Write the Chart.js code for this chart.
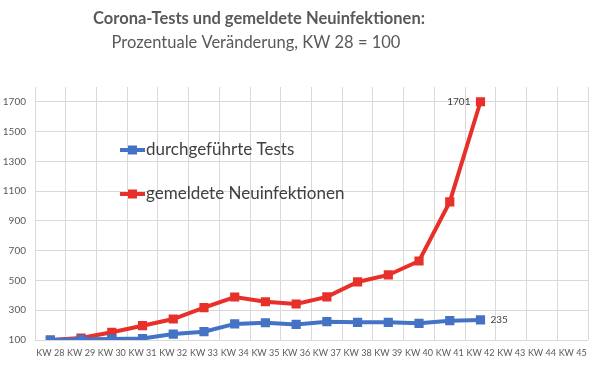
<!DOCTYPE html>
<html><head><meta charset="utf-8">
<script src="https://cdn.jsdelivr.net/npm/chart.js@4"></script>
<style>html,body{margin:0;padding:0;background:#fff}#w{width:600px;height:380px}</style>
</head><body><div id="w"><canvas id="c" width="600" height="380"></canvas></div>
<script>
const categories = ["KW 28","KW 29","KW 30","KW 31","KW 32","KW 33","KW 34","KW 35","KW 36","KW 37","KW 38","KW 39","KW 40","KW 41","KW 42","KW 43","KW 44","KW 45"];
const testsValues = [100,105,107,110,140,156,208,216,205,223,219,219,212,230,235,null,null,null];
const infectionsValues = [100,113,152,196,241,317,389,357,342,390,490,537,631,1028,1701,null,null,null];
const yTickValues = [100,300,500,700,900,1100,1300,1500,1700];
const seriesNames = ["durchgeführte Tests","gemeldete Neuinfektionen"];
const titleText = "Corona-Tests und gemeldete Neuinfektionen:";
const subtitleText = "Prozentuale Veränderung, KW 28 = 100";

const BLUE = "#4472C4", RED = "#E8302A", FONT = "Lato";

const overlay = {
  id: "overlay",
  afterDraw(chart) {
    const ctx = chart.ctx;
    ctx.save();
    ctx.fillStyle = "#595959"; ctx.textAlign = "center"; ctx.textBaseline = "alphabetic";
    ctx.font = "bold 16.5px " + FONT; ctx.fillText(titleText, 259, 24);
    ctx.font = "16.5px " + FONT; ctx.fillText(subtitleText, 256, 48);
    ctx.restore();
  },
  afterDatasetsDraw(chart) {
    const ctx = chart.ctx;
    const items = [[seriesNames[0], BLUE, 150], [seriesNames[1], RED, 194]];
    items.forEach(([t, col, y]) => {
      ctx.save();
      ctx.strokeStyle = col; ctx.lineWidth = 4;
      ctx.beginPath(); ctx.moveTo(120, y); ctx.lineTo(145, y); ctx.stroke();
      ctx.fillStyle = col; ctx.fillRect(128, y - 4.5, 9, 9);
      ctx.fillStyle = "#404040"; ctx.font = "17px " + FONT;
      ctx.textBaseline = "middle"; ctx.textAlign = "left";
      ctx.fillText(t, 146, y);
      ctx.restore();
    });
    const last = 14;
    const pB = chart.getDatasetMeta(0).data[last];
    const pR = chart.getDatasetMeta(1).data[last];
    ctx.save();
    ctx.fillStyle = "#404040"; ctx.font = "10px " + FONT; ctx.textBaseline = "middle";
    ctx.textAlign = "left"; ctx.fillText(String(testsValues[last]), pB.x + 10, pB.y);
    ctx.textAlign = "right"; ctx.fillText(String(infectionsValues[last]), pR.x - 10, pR.y);
    ctx.restore();
  }
};

new Chart(document.getElementById("c"), {
  type: "line",
  data: {
    labels: categories,
    datasets: [
      { label: seriesNames[0], data: testsValues, borderColor: BLUE, backgroundColor: BLUE, borderWidth: 4, pointStyle: "rect", pointRadius: 6.5, pointBorderWidth: 0, tension: 0 },
      { label: seriesNames[1], data: infectionsValues, borderColor: RED, backgroundColor: RED, borderWidth: 4, pointStyle: "rect", pointRadius: 6.5, pointBorderWidth: 0, tension: 0 }
    ]
  },
  options: {
    responsive: false, animation: false,
    layout: { padding: { left: 0, right: 12, top: 87, bottom: 0 } },
    plugins: {
      legend: { display: false },
      tooltip: { enabled: false },
      title: { display: false },
      subtitle: { display: false }
    },
    scales: {
      x: {
        offset: true,
        grid: { offset: true, color: "#d9d9d9", drawTicks: false },
        border: { display: false },
        ticks: { color: "#595959", font: { family: FONT, size: 9 }, padding: 8, maxRotation: 0, autoSkip: false },
        afterFit(s) { s.height = 40; }
      },
      y: {
        min: 100, max: 1800,
        grid: { color: "#d9d9d9", drawTicks: false },
        border: { display: false },
        afterBuildTicks(s) { s.ticks = yTickValues.map(v => ({ value: v })); },
        ticks: { color: "#595959", font: { family: FONT, size: 10 }, padding: 9, callback: v => String(v) },
        afterFit(s) { s.width = 35; }
      }
    }
  },
  plugins: [overlay]
});
</script></body></html>
